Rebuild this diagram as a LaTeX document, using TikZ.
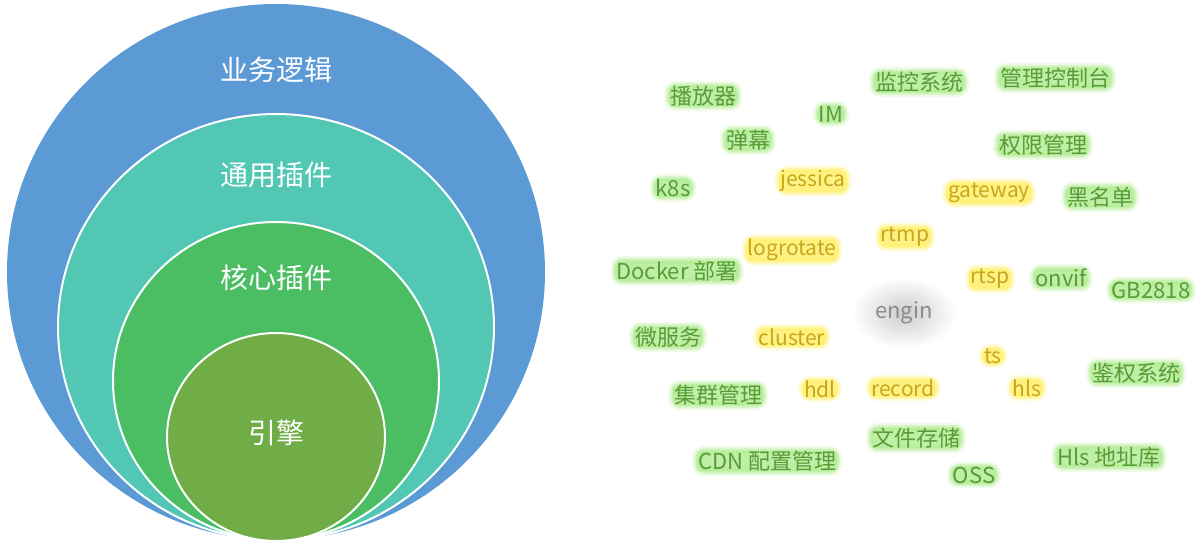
\documentclass[tikz,border=0pt]{standalone}
\usepackage{fontspec}
\usepackage{xcolor}
\usetikzlibrary{shapes.geometric}
\newfontfamily\cjk{Noto Sans CJK SC}
\definecolor{ringblue}{HTML}{5B9AD5}
\definecolor{ringteal}{HTML}{52C8B4}
\definecolor{ringgreen}{HTML}{4BBE63}
\definecolor{ringolive}{HTML}{70AD47}
\definecolor{wordgreen}{HTML}{589C38}
\definecolor{glowgreen}{HTML}{B4EC96}
\definecolor{wordgold}{HTML}{C9A51A}
\definecolor{glowgold}{HTML}{FFF070}
\definecolor{enginggray}{HTML}{8C8C8C}
\begin{document}
\begin{tikzpicture}[x=1pt, y=-1pt,
  ring/.style={draw=white, line width=2pt},
  ringlab/.style={font=\cjk\fontsize{28}{32}\selectfont, text=white},
  glow/.style={rounded corners=7pt, inner xsep=1pt, inner ysep=0pt, fill=#1, fill opacity=0.85, text opacity=1,
    preaction={draw=#1, line width=10pt, draw opacity=0.2},
    preaction={draw=#1, line width=6pt, draw opacity=0.35},
    preaction={draw=#1, line width=3pt, draw opacity=0.5}},
  core/.style={glow=glowgreen, text=wordgreen, font=\cjk\fontsize{22}{26}\selectfont},
  proto/.style={glow=glowgold, text=wordgold, font=\cjk\fontsize{21}{25}\selectfont}]
\useasboundingbox (0,0) rectangle (1200,546);
% nested rings
\fill[ringblue] (276,272) ellipse [x radius=269, y radius=268];
\filldraw[ring, fill=ringteal] (276,327) ellipse [x radius=218, y radius=213];
\filldraw[ring, fill=ringgreen] (276,381) ellipse [x radius=163, y radius=159];
\filldraw[ring, fill=ringolive] (276,437) ellipse [x radius=109, y radius=104];
\node[ringlab] (biz)    at (276,70)  {业务逻辑};
\node[ringlab] (common) at (276,175) {通用插件};
\node[ringlab] (plugin) at (276,278) {核心插件};
\node[ringlab] (engine) at (276,433) {引擎};
% word cloud
\node[ellipse, inner color=black!20, outer color=white, minimum width=105, minimum height=72,
  text=enginggray, font=\cjk\fontsize{22}{26}\selectfont] (engin) at (904,313) {engin};
\node[core] (player)   at (703,96)  {播放器};
\node[core] (im)       at (831,114) {IM};
\node[core] (monitor)  at (919,82)  {监控系统};
\node[core] (console)  at (1055,78) {管理控制台};
\node[core] (danmaku)  at (748,140) {弹幕};
\node[core] (perm)     at (1043,145) {权限管理};
\node[core] (k8s)      at (673,188) {k8s};
\node[core] (blacklist) at (1100,197) {黑名单};
\node[core] (docker)   at (677,271) {Docker 部署};
\node[core] (onvif)    at (1061,278) {onvif};
\node[core] (gb)       at (1151,290) {GB2818};
\node[core] (micro)    at (668,337) {微服务};
\node[core] (auth)     at (1136,373) {鉴权系统};
\node[core] (clusterm) at (718,395) {集群管理};
\node[core] (files)    at (916,438) {文件存储};
\node[core] (cdn)      at (767,461) {CDN 配置管理};
\node[core] (oss)      at (974,475) {OSS};
\node[core] (hlsdb)    at (1109,457) {Hls 地址库};
\node[proto] (jessica) at (813,181) {jessica};
\node[proto] (gateway) at (989,193) {gateway};
\node[proto] (rtmp)    at (905,237) {rtmp};
\node[proto] (logrot)  at (792,250) {logrotate};
\node[proto] (rtsp)    at (990,279) {rtsp};
\node[proto] (cluster) at (792,337) {cluster};
\node[proto] (ts)      at (993,356) {ts};
\node[proto] (hdl)     at (820,389) {hdl};
\node[proto] (record)  at (903,388) {record};
\node[proto] (hls)     at (1027,388) {hls};
\end{tikzpicture}
\end{document}
